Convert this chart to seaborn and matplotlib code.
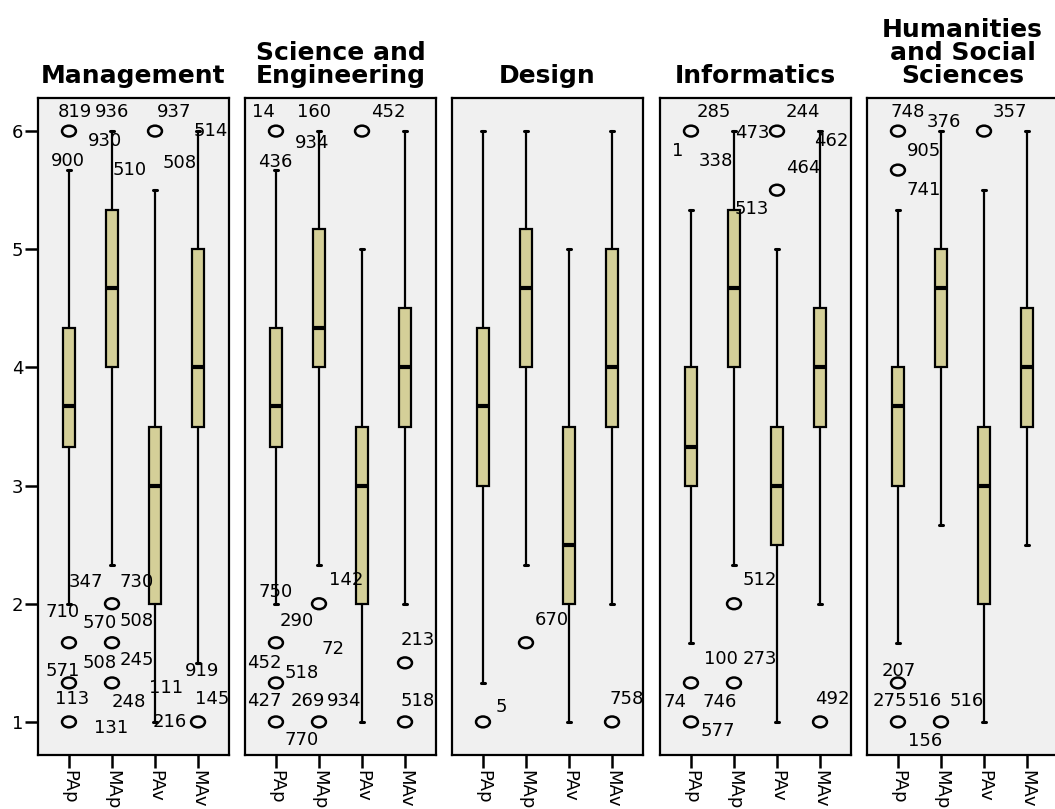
import matplotlib
matplotlib.use("Agg")
import matplotlib.pyplot as plt
import pandas as pd
import seaborn as sns
from matplotlib.path import Path
from matplotlib.transforms import Affine2D

groups = ["Management", "Science and\nEngineering", "Design", "Informatics",
          "Humanities\nand Social\nSciences"]
variables = ["PAp", "MAp", "PAv", "MAv"]

# box summaries, one row per group, columns in variable order
whisker_low = [[2.0, 2.33, 1.0, 1.5],
               [2.0, 2.33, 1.0, 2.0],
               [1.33, 2.33, 1.0, 2.0],
               [1.67, 2.33, 1.0, 2.0],
               [1.67, 2.67, 1.0, 2.5]]
quart_1 = [[3.33, 4.0, 2.0, 3.5],
           [3.33, 4.0, 2.0, 3.5],
           [3.0, 4.0, 2.0, 3.5],
           [3.0, 4.0, 2.5, 3.5],
           [3.0, 4.0, 2.0, 3.5]]
medians = [[3.67, 4.67, 3.0, 4.0],
           [3.67, 4.33, 3.0, 4.0],
           [3.67, 4.67, 2.5, 4.0],
           [3.33, 4.67, 3.0, 4.0],
           [3.67, 4.67, 3.0, 4.0]]
quart_3 = [[4.33, 5.33, 3.5, 5.0],
           [4.33, 5.17, 3.5, 4.5],
           [4.33, 5.17, 3.5, 5.0],
           [4.0, 5.33, 3.5, 4.5],
           [4.0, 5.0, 3.5, 4.5]]
whisker_high = [[5.67, 6.0, 5.5, 6.0],
                [5.67, 6.0, 5.0, 6.0],
                [6.0, 6.0, 5.0, 6.0],
                [5.33, 6.0, 5.0, 6.0],
                [5.33, 6.0, 5.5, 6.0]]
outliers = [[[6, 1.67, 1.33, 1], [2, 1.67, 1.33], [6], [1]],
            [[6, 1.67, 1.33, 1], [2, 1], [6], [1.5, 1]],
            [[1], [1.67], [], [1]],
            [[6, 1.33, 1], [2, 1.33], [6, 5.5], [1]],
            [[6, 5.67, 1.33, 1], [1], [6], []]]

# case-number annotations: text, x (category units), y
case_labels = [
    [("819", 0.14, 6.16), ("936", 1.0, 6.16), ("930", 0.84, 5.92), ("900", -0.02, 5.75),
     ("510", 1.4, 5.67), ("937", 2.44, 6.16), ("508", 2.58, 5.73), ("514", 3.3, 6.0),
     ("347", 0.4, 2.18), ("730", 1.58, 2.18), ("710", -0.14, 1.93), ("570", 0.72, 1.84),
     ("508", 1.58, 1.85), ("571", -0.14, 1.43), ("508", 0.72, 1.5), ("245", 1.58, 1.52),
     ("113", 0.07, 1.19), ("248", 1.4, 1.17), ("111", 2.26, 1.29), ("919", 3.1, 1.43),
     ("145", 3.33, 1.19), ("131", 0.98, 0.95), ("216", 2.35, 1.0)],
    [("14", -0.3, 6.16), ("160", 0.88, 6.16), ("934", 0.84, 5.9), ("436", -0.02, 5.74),
     ("452", 2.6, 6.16), ("142", 1.63, 2.2), ("750", 0.0, 2.1), ("290", 0.49, 1.85),
     ("72", 1.33, 1.62), ("213", 3.3, 1.69), ("452", -0.26, 1.5), ("518", 0.6, 1.41),
     ("427", -0.26, 1.18), ("269", 0.74, 1.18), ("934", 1.58, 1.18), ("518", 3.3, 1.18),
     ("770", 0.6, 0.85)],
    [("5", 0.42, 1.13), ("670", 1.6, 1.86), ("758", 3.33, 1.19)],
    [("285", 0.53, 6.16), ("1", -0.3, 5.83), ("473", 1.42, 5.98), ("338", 0.58, 5.75),
     ("244", 2.6, 6.16), ("462", 3.26, 5.92), ("464", 2.6, 5.69), ("513", 1.42, 5.34),
     ("512", 1.6, 2.2), ("100", 0.7, 1.53), ("273", 1.6, 1.53), ("74", -0.37, 1.17),
     ("746", 0.67, 1.17), ("492", 3.28, 1.19), ("577", 0.63, 0.92)],
    [("748", 0.23, 6.16), ("376", 1.07, 6.08), ("905", 0.6, 5.83), ("741", 0.6, 5.5),
     ("357", 2.6, 6.16), ("207", 0.02, 1.43), ("275", -0.19, 1.18), ("516", 0.63, 1.18),
     ("516", 1.6, 1.18), ("156", 0.63, 0.84)],
]

sns.set_theme(style="white")
plt.rcParams["font.family"] = ["DejaVu Sans"]
plt.rcParams["text.color"] = "black"
plt.rcParams["xtick.color"] = "black"
plt.rcParams["ytick.color"] = "black"

box_fill = "#d4cf98"
panel_bg = "#f0f0f0"
ellipse = Path.unit_circle().transformed(Affine2D().scale(1.0, 0.78))

W, H = 1055, 809
fig = plt.figure(figsize=(W / 100, H / 100), dpi=100)
panel_left = [38, 245, 452, 660, 867]

for g, name in enumerate(groups):
    ax = fig.add_axes([panel_left[g] / W, 1 - 755 / H, 191 / W, (755 - 98) / H])
    ax.set_facecolor(panel_bg)

    stats = []
    for v, var in enumerate(variables):
        stats.append(dict(label=var, whislo=whisker_low[g][v], q1=quart_1[g][v],
                          med=medians[g][v], q3=quart_3[g][v],
                          whishi=whisker_high[g][v], fliers=[]))
    ax.bxp(stats, positions=range(len(variables)), widths=0.28, capwidths=0.1,
           patch_artist=True, showfliers=False,
           boxprops=dict(facecolor=box_fill, edgecolor="black", linewidth=1.6),
           medianprops=dict(color="black", linewidth=3),
           whiskerprops=dict(color="black", linewidth=1.6),
           capprops=dict(color="black", linewidth=2.2))

    pts = pd.DataFrame([(v, y) for v in range(len(variables)) for y in outliers[g][v]],
                       columns=["pos", "value"])
    if len(pts):
        sns.scatterplot(data=pts, x="pos", y="value", marker=ellipse, s=100,
                        facecolors="none", edgecolor="black", linewidth=1.8, ax=ax)

    for txt, x, y in case_labels[g]:
        ax.text(x, y, txt, ha="center", va="center", fontsize=13, color="black")

    ax.set_xlim(-0.72, 3.72)
    ax.set_ylim(0.72, 6.28)
    ax.set_xlabel("")
    ax.set_ylabel("")
    ax.set_xticks(range(len(variables)))
    ax.set_xticklabels(variables, rotation=-90, fontsize=13, va="top", ha="center")
    ax.tick_params(axis="x", bottom=True, length=9.5, width=1.8, pad=1, color="black")
    if g == 0:
        ax.set_yticks([1, 2, 3, 4, 5, 6])
        ax.set_yticklabels(["1", "2", "3", "4", "5", "6"], fontsize=13)
        ax.tick_params(axis="y", left=True, length=9.5, width=1.8, pad=1, color="black")
    else:
        ax.set_yticks([])
    for s in ax.spines.values():
        s.set_color("black")
        s.set_linewidth(1.6)
    ax.set_title(name, fontsize=18, fontweight="bold", pad=11, linespacing=0.95,
                 color="black")

fig.savefig("out.png", dpi=100)
